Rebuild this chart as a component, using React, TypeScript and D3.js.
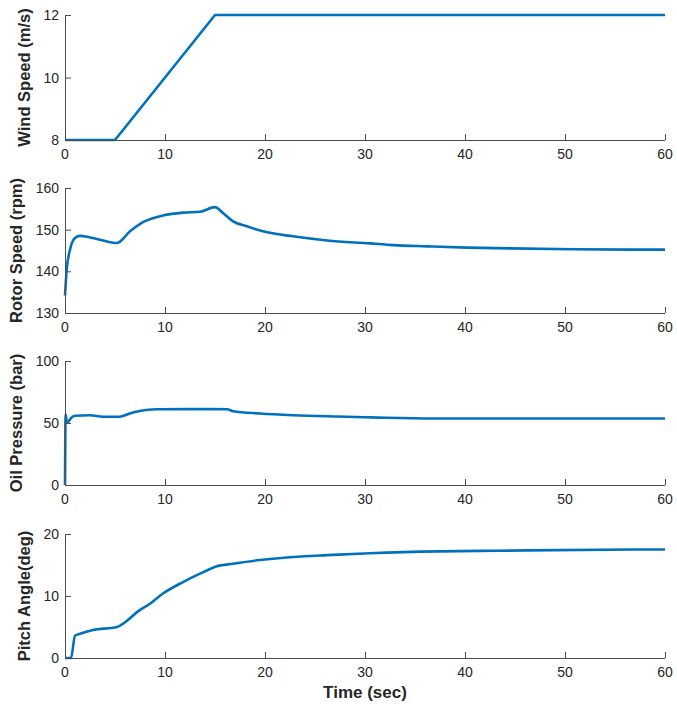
import React from 'react';
import * as d3 from 'd3';

const timeTicks = [0, 10, 20, 30, 40, 50, 60];

const windTime = [0, 5, 15, 60];
const windSpeed = [8, 8, 12, 12];

const rotorTime = [0, 0.17, 0.5, 1.0, 1.5, 2.2, 3.5, 5.2, 6.5, 7.8, 9.8, 11.8, 13.5, 15.0, 15.8, 16.8, 18.2, 19.8, 22.8, 26.2, 30.5, 32.8, 36.2, 40.2, 44.5, 50.8, 60];
const rotorSpeed = [134.2, 140.4, 145.2, 148.0, 148.5, 148.3, 147.6, 146.8, 149.6, 151.8, 153.4, 154.1, 154.3, 155.4, 154.0, 152.0, 150.8, 149.6, 148.4, 147.4, 146.7, 146.3, 146.0, 145.7, 145.5, 145.3, 145.2];

const oilTime = [0, 0.06, 0.2, 0.6, 1.0, 2.5, 3.8, 5.3, 6.8, 9.2, 12.5, 16.2, 16.8, 19.5, 22.8, 27.2, 30.7, 36.7, 60];
const oilPressure = [0, 57, 50, 54, 55.8, 56.3, 55.0, 55.0, 58.5, 61.1, 61.2, 61.1, 59.5, 57.7, 56.3, 55.2, 54.5, 53.6, 53.6];

const pitchTime = [0, 0.6, 1.0, 1.5, 2.8, 5.2, 6.2, 7.2, 8.5, 9.8, 11.8, 13.5, 15.2, 16.8, 19.5, 22.8, 26.2, 30.5, 37.5, 43.2, 57.5, 60];
const pitchAngle = [0, 0, 3.6, 3.9, 4.5, 5.0, 6.0, 7.4, 8.75, 10.4, 12.25, 13.6, 14.8, 15.2, 15.8, 16.3, 16.6, 16.9, 17.2, 17.3, 17.5, 17.5];

const panels = [
  { label: 'Wind Speed (m/s)', t: windTime, v: windSpeed, domain: [8, 12], ticks: [8, 10, 12], top: 15, bottom: 140, curve: d3.curveLinear },
  { label: 'Rotor Speed (rpm)', t: rotorTime, v: rotorSpeed, domain: [130, 160], ticks: [130, 140, 150, 160], top: 188, bottom: 313, curve: d3.curveMonotoneX },
  { label: 'Oil Pressure (bar)', t: oilTime, v: oilPressure, domain: [0, 100], ticks: [0, 50, 100], top: 361, bottom: 485, curve: d3.curveMonotoneX },
  { label: 'Pitch Angle(deg)', t: pitchTime, v: pitchAngle, domain: [0, 20], ticks: [0, 10, 20], top: 534, bottom: 658, curve: d3.curveMonotoneX },
];

const axisColor = '#4d4d4d';
const textColor = '#262626';
const lineColor = '#0072BD';
const font = '"Liberation Sans", Arial, sans-serif';

export default function App() {
  const x = d3.scaleLinear().domain([0, 60]).range([65, 665]);

  return (
    <svg width={677} height={706} style={{ position: 'absolute', left: 0, top: 0, background: '#fff' }} fontFamily={font}>
      {panels.map((p, i) => {
        const y = d3.scaleLinear().domain(p.domain).range([p.bottom, p.top]);
        const line = d3
          .line<number>()
          .x((d, j) => x(p.t[j]))
          .y((d) => y(d))
          .curve(p.curve);
        const mid = (p.top + p.bottom) / 2;
        // ylabel sits left of the widest tick label, like matlab does
        const maxChars = d3.max(p.ticks, (v) => String(v).length) || 1;
        const labelX = 59 - maxChars * 7.8 - 13.5;
        return (
          <g key={i}>
            <path d={line(p.v) || ''} fill="none" stroke={lineColor} strokeWidth={2.6} strokeLinejoin="round" />
            <line x1={x(0)} x2={x(60)} y1={p.bottom + 0.5} y2={p.bottom + 0.5} stroke={axisColor} />
            <line x1={x(0) + 0.5} x2={x(0) + 0.5} y1={p.top} y2={p.bottom + 0.5} stroke={axisColor} />
            {timeTicks.map((t) => (
              <g key={t}>
                <line x1={x(t) + 0.5} x2={x(t) + 0.5} y1={p.bottom} y2={p.bottom - 6} stroke={axisColor} />
                <text x={x(t)} y={p.bottom + 19} textAnchor="middle" fontSize={14} fill={textColor}>{t}</text>
              </g>
            ))}
            {p.ticks.map((v) => (
              <g key={v}>
                <line x1={x(0)} x2={x(0) + 6} y1={y(v) + 0.5} y2={y(v) + 0.5} stroke={axisColor} />
                <text x={59} y={y(v)} dy="0.36em" textAnchor="end" fontSize={14} fill={textColor}>{v}</text>
              </g>
            ))}
            <text
              transform={`translate(${labelX},${mid}) rotate(-90)`}
              textAnchor="middle"
              fontSize={16.5}
              fontWeight="bold"
              fill={textColor}
            >
              {p.label}
            </text>
          </g>
        );
      })}
      <text x={365} y={698} textAnchor="middle" fontSize={17} fontWeight="bold" fill={textColor}>Time (sec)</text>
    </svg>
  );
}
